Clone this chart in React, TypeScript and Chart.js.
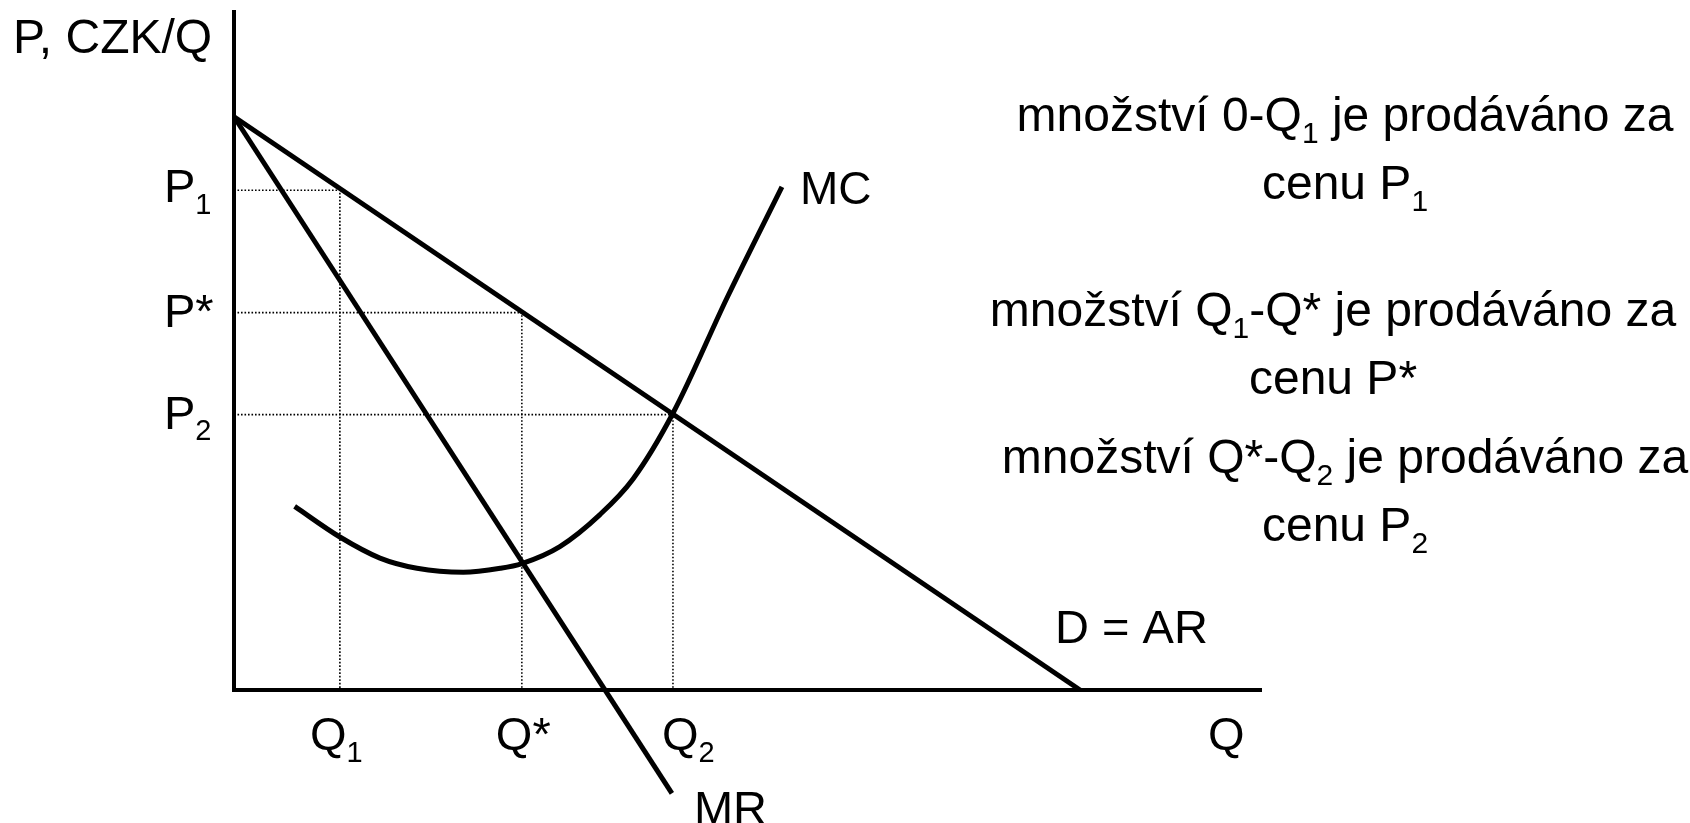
import React, { useEffect, useRef } from "react";
import { Chart, registerables } from "chart.js";

Chart.register(...registerables);

// ---------- data (quantity on x, price on y; axis span 0..100) ----------
const demandQ = [0, 82.3];
const demandP = [84.3, 0];

const mrQ = [0, 42.6];
const mrP = [84.3, -15.2];

const mcQ = [5.9, 10.3, 14.2, 17.8, 22.3, 25.9, 28.0, 31.7, 35.6, 38.8, 42.7, 48.0, 53.3];
const mcP = [27.0, 22.5, 19.4, 17.9, 17.3, 17.9, 18.6, 21.1, 25.8, 31.0, 40.7, 57.8, 74.0];

const quantityLevels = [10.3, 28.0, 42.7]; // Q1, Q*, Q2
const priceLevels = [73.5, 55.5, 40.5]; // P1, P*, P2

type Run = { t: string; sub?: boolean };
const priceLabels: Run[][] = [
  [{ t: "P" }, { t: "1", sub: true }],
  [{ t: "P*" }],
  [{ t: "P" }, { t: "2", sub: true }],
];
const quantityLabels: Run[][] = [
  [{ t: "Q" }, { t: "1", sub: true }],
  [{ t: "Q*" }],
  [{ t: "Q" }, { t: "2", sub: true }],
];
const yAxisTitle: Run[] = [{ t: "P, CZK/Q" }];
const xAxisTitle: Run[] = [{ t: "Q" }];
const curveLabels = { D: "D = AR", MC: "MC", MR: "MR" };

const notes: Run[][][] = [
  [
    [{ t: "množství 0-Q" }, { t: "1", sub: true }, { t: " je prodáváno za" }],
    [{ t: "cenu P" }, { t: "1", sub: true }],
  ],
  [
    [{ t: "množství Q" }, { t: "1", sub: true }, { t: "-Q* je prodáváno za" }],
    [{ t: "cenu P*" }],
  ],
  [
    [{ t: "množství Q*-Q" }, { t: "2", sub: true }, { t: " je prodáváno za" }],
    [{ t: "cenu P" }, { t: "2", sub: true }],
  ],
];

const AXIS_MAX = 100;

// ---------- layout / style ----------
const W = 1690;
const H = 823;
const FONT = '"Liberation Sans", Arial, Helvetica, sans-serif';
const PX_PER_X = 10.28;
const PX_PER_Y = 6.8;
const ORIGIN_X = 234;
const ORIGIN_Y = 690;
const LABEL_SIZE = 47;
const NOTE_SIZE = 48;

const pts = (xs: number[], ys: number[]) => xs.map((x, i) => ({ x, y: ys[i] }));

function drawRich(
  ctx: CanvasRenderingContext2D,
  runs: Run[],
  x: number,
  y: number,
  size: number,
  align: "left" | "center" = "left"
) {
  const subSize = Math.round(size * 0.62);
  const fontFor = (r: Run) => `${r.sub ? subSize : size}px ${FONT}`;
  let total = 0;
  for (const r of runs) {
    ctx.font = fontFor(r);
    total += ctx.measureText(r.t).width;
  }
  let cx = align === "center" ? x - total / 2 : x;
  ctx.textAlign = "left";
  ctx.textBaseline = "alphabetic";
  for (const r of runs) {
    ctx.font = fontFor(r);
    ctx.fillText(r.t, cx, r.sub ? y + size * 0.25 : y);
    cx += ctx.measureText(r.t).width;
  }
}

const labelPlugin = {
  id: "econLabels",
  afterDraw(chart: any) {
    const ctx: CanvasRenderingContext2D = chart.ctx;
    const xs = chart.scales.x;
    const ys = chart.scales.y;
    const px = (v: number) => xs.getPixelForValue(v);
    const py = (v: number) => ys.getPixelForValue(v);
    ctx.save();
    ctx.fillStyle = "#000";

    const ax = px(0);
    const ay = py(0);
    // axis titles
    drawRich(ctx, yAxisTitle, ax - 221, py(AXIS_MAX) + 43, 48);
    drawRich(ctx, xAxisTitle, px(AXIS_MAX) - 54, ay + 60, LABEL_SIZE);

    // price labels
    const pOff = [12, 14, 14];
    priceLabels.forEach((lab, i) => {
      drawRich(ctx, lab, ax - 70, py(priceLevels[i]) + pOff[i], LABEL_SIZE);
    });
    // quantity labels
    const qOff = [-30, -26, -11];
    quantityLabels.forEach((lab, i) => {
      drawRich(ctx, lab, px(quantityLevels[i]) + qOff[i], ay + 60, LABEL_SIZE);
    });

    // curve labels
    drawRich(
      ctx,
      [{ t: curveLabels.D }],
      px(demandQ[demandQ.length - 1]) - 25,
      py(demandP[demandP.length - 1]) - 47,
      LABEL_SIZE
    );
    drawRich(
      ctx,
      [{ t: curveLabels.MC }],
      px(mcQ[mcQ.length - 1]) + 18,
      py(mcP[mcP.length - 1]) + 17,
      LABEL_SIZE - 1
    );
    drawRich(
      ctx,
      [{ t: curveLabels.MR }],
      px(mrQ[mrQ.length - 1]) + 22,
      py(mrP[mrP.length - 1]) + 31,
      LABEL_SIZE
    );

    // notes
    const centers = [1345, 1333, 1345];
    const baselines = [131, 326, 473];
    notes.forEach((block, i) => {
      block.forEach((line, j) => {
        drawRich(ctx, line, centers[i], baselines[i] + j * 68, NOTE_SIZE, "center");
      });
    });
    ctx.restore();
  },
};

export default function App() {
  const ref = useRef<HTMLCanvasElement | null>(null);

  useEffect(() => {
    if (!ref.current) return;
    const xMin = -ORIGIN_X / PX_PER_X;
    const xMax = xMin + W / PX_PER_X;
    const yMax = ORIGIN_Y / PX_PER_Y;
    const yMin = -(H - ORIGIN_Y) / PX_PER_Y;

    const guide = (q: number, p: number) => ({
      data: [
        { x: 0, y: p },
        { x: q, y: p },
        { x: q, y: 0 },
      ],
      borderColor: "#000",
      borderWidth: 1.6,
      borderDash: [1.6, 1.9],
      pointRadius: 0,
      showLine: true,
      tension: 0,
    });
    const solid = (data: { x: number; y: number }[], width: number, extra: any = {}) => ({
      data,
      borderColor: "#000",
      borderWidth: width,
      pointRadius: 0,
      showLine: true,
      tension: 0,
      ...extra,
    });

    const chart = new Chart(ref.current, {
      type: "scatter",
      data: {
        datasets: [
          ...quantityLevels.map((q, i) => guide(q, priceLevels[i])),
          solid(pts(demandQ, demandP), 5),
          solid(pts(mrQ, mrP), 5),
          solid(pts(mcQ, mcP), 5, { cubicInterpolationMode: "monotone" }),
          solid(
            [
              { x: 0, y: AXIS_MAX },
              { x: 0, y: 0 },
              { x: AXIS_MAX, y: 0 },
            ],
            4
          ),
        ] as any,
      },
      options: {
        animation: false,
        responsive: false,
        devicePixelRatio: 1,
        layout: { padding: 0 },
        plugins: { legend: { display: false }, tooltip: { enabled: false } },
        events: [],
        scales: {
          x: { type: "linear", min: xMin, max: xMax, display: false },
          y: { type: "linear", min: yMin, max: yMax, display: false },
        },
      } as any,
      plugins: [labelPlugin],
    });
    return () => chart.destroy();
  }, []);

  return (
    <div
      style={{
        position: "absolute",
        left: 0,
        top: 0,
        width: W,
        height: H,
        background: "#fff",
        overflow: "hidden",
      }}
    >
      <canvas ref={ref} width={W} height={H} style={{ display: "block", width: W, height: H }} />
    </div>
  );
}
